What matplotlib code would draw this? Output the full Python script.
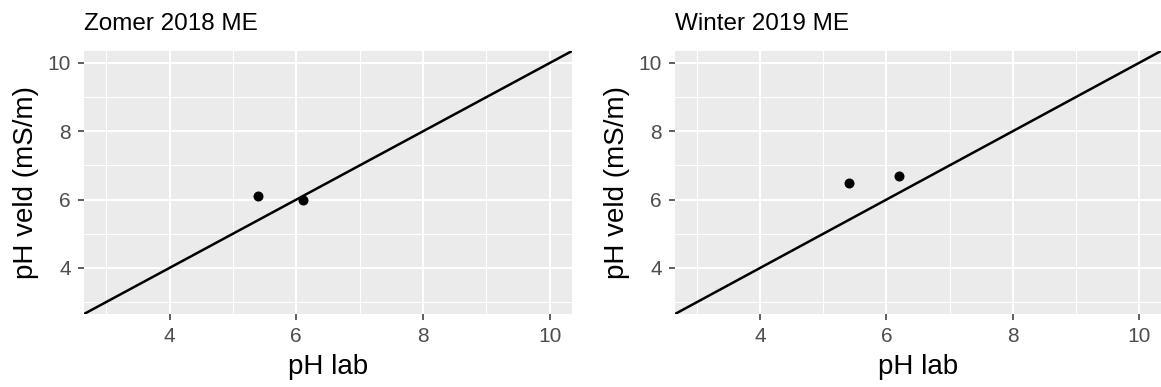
import matplotlib
matplotlib.use("Agg")
import matplotlib.pyplot as plt
from matplotlib.ticker import FixedLocator

plt.rcParams["font.family"] = ["Liberation Sans", "DejaVu Sans"]

# Measurements per campaign: lab pH vs field pH
panel_titles = ["Zomer 2018 ME", "Winter 2019 ME"]
lab_ph = [[5.4, 6.1], [5.4, 6.2]]
field_ph = [[6.1, 6.0], [6.5, 6.7]]

x_label = "pH lab"
y_label = "pH veld (mS/m)"
axis_limits = [3, 10]
major_ticks = [4, 6, 8, 10]
minor_ticks = [3, 5, 7, 9]

W, H = 1161, 387
fig = plt.figure(figsize=(W / 100, H / 100), dpi=100)

panel_px = [(84, 51, 572, 314), (675, 51, 1161, 314)]

lo, hi = axis_limits
span = hi - lo
lim = (lo - 0.05 * span, hi + 0.05 * span)

for (x0, y0, x1, y1), title, xs, ys in zip(panel_px, panel_titles, lab_ph, field_ph):
    ax = fig.add_axes([x0 / W, 1 - y1 / H, (x1 - x0) / W, (y1 - y0) / H])
    ax.set_facecolor("#EBEBEB")
    for s in ax.spines.values():
        s.set_visible(False)
    ax.set_xlim(lim)
    ax.set_ylim(lim)
    for axis in (ax.xaxis, ax.yaxis):
        axis.set_major_locator(FixedLocator(major_ticks))
        axis.set_minor_locator(FixedLocator(minor_ticks))
    ax.grid(which="major", color="white", linewidth=1.5)
    ax.grid(which="minor", color="white", linewidth=0.75)
    ax.set_axisbelow(True)
    ax.tick_params(which="major", length=4.3, width=1.1, color="#333333",
                   labelsize=15, labelcolor="#4D4D4D", pad=5)
    ax.tick_params(which="minor", length=0)

    ax.axline((lo, lo), slope=1, color="black", linewidth=1.8, zorder=3)
    ax.scatter(xs, ys, s=52, color="black", zorder=4, linewidths=0)

    ax.set_xlabel(x_label, fontsize=20, labelpad=6)
    ax.set_ylabel(y_label, fontsize=20, labelpad=6)
    ax.set_title(title, loc="left", fontsize=17.5, pad=15)

fig.savefig("out.png", dpi=100)
